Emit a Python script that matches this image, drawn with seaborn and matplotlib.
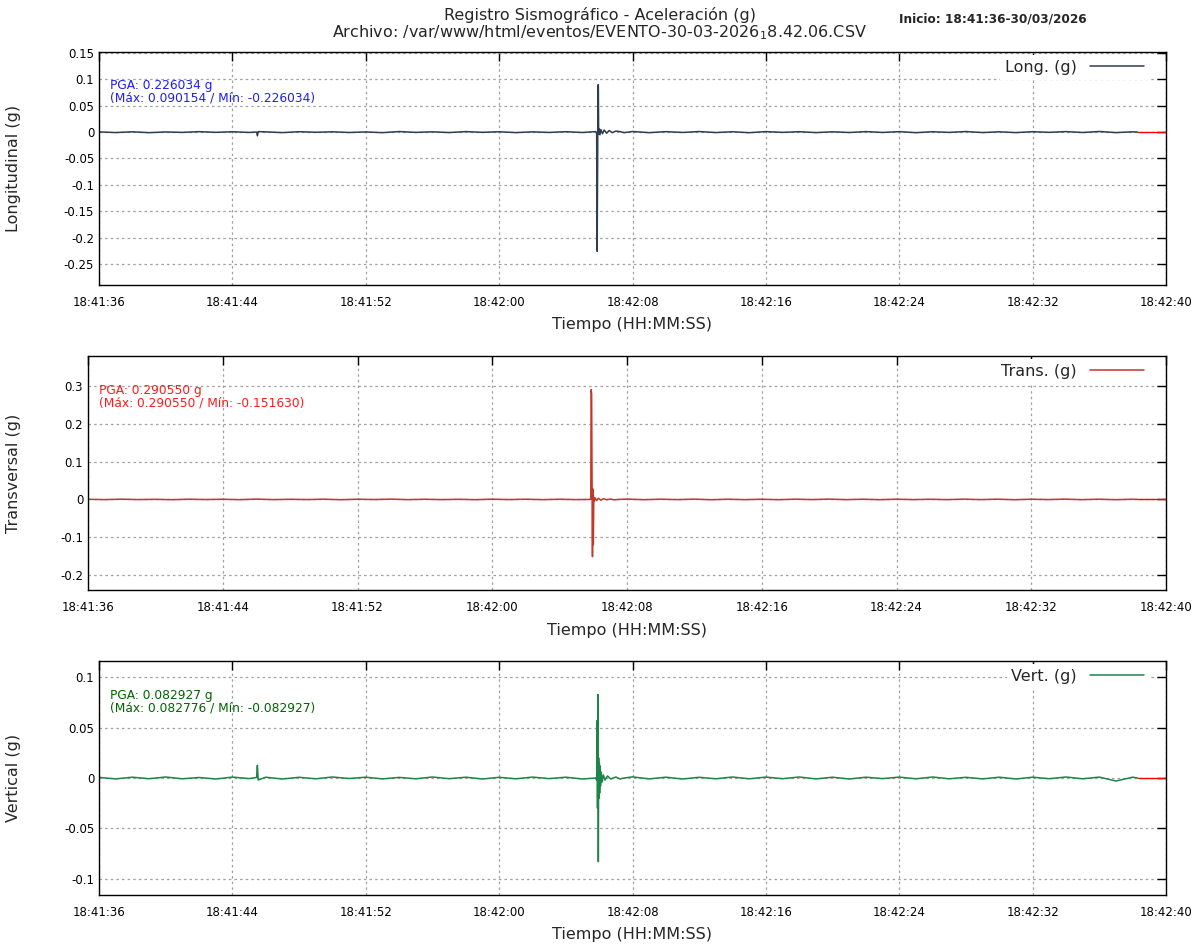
import numpy as np
import pandas as pd
import matplotlib
matplotlib.use("Agg")
import matplotlib.pyplot as plt
import seaborn as sns
from matplotlib.ticker import FuncFormatter

# eje de tiempo (segundos desde 18:41:36)
tick_secs = [0, 8, 16, 24, 32, 40, 48, 56, 64]
tick_labels = ["18:41:36", "18:41:44", "18:41:52", "18:42:00", "18:42:08",
               "18:42:16", "18:42:24", "18:42:32", "18:42:40"]

# ruido de fondo, una muestra por segundo
base_t = [0, 1, 2, 3, 4, 5, 6, 7, 8, 9, 10, 11, 12, 13, 14, 15, 16, 17, 18, 19,
          20, 21, 22, 23, 24, 25, 26, 27, 28, 29, 32, 33, 34, 35, 36, 37, 38, 39,
          40, 41, 42, 43, 44, 45, 46, 47, 48, 49, 50, 51, 52, 53, 54, 55, 56, 57,
          58, 59, 60, 61, 62, 62.3]
long_base = [0.0004, -0.0008, 0.0006, -0.0010, 0.0003, -0.0005, 0.0009, -0.0004,
             0.0007, -0.0006, 0.0005, -0.0009, 0.0008, -0.0003, 0.0006, -0.0007,
             0.0004, -0.0010, 0.0011, -0.0005, 0.0006, -0.0008, 0.0010, -0.0004,
             0.0007, -0.0009, 0.0005, -0.0006, 0.0008, -0.0007, 0.0012, -0.0010,
             0.0009, -0.0006, 0.0011, -0.0008, 0.0007, -0.0011, 0.0010, -0.0005,
             0.0008, -0.0009, 0.0006, -0.0007, 0.0010, -0.0006, 0.0009, -0.0010,
             0.0007, -0.0005, 0.0011, -0.0008, 0.0006, -0.0009, 0.0008, -0.0004,
             0.0010, -0.0007, 0.0012, -0.0009, 0.0006, 0.0000]
trans_base = [0.0003, -0.0005, 0.0006, -0.0004, 0.0002, -0.0007, 0.0005, -0.0003,
              0.0004, -0.0006, 0.0008, -0.0005, 0.0003, -0.0004, 0.0006, -0.0008,
              0.0005, -0.0003, 0.0007, -0.0006, 0.0004, -0.0005, 0.0003, -0.0007,
              0.0006, -0.0004, 0.0005, -0.0006, 0.0004, -0.0005, 0.0008, -0.0007,
              0.0006, -0.0005, 0.0007, -0.0008, 0.0005, -0.0006, 0.0004, -0.0007,
              0.0006, -0.0004, 0.0008, -0.0006, 0.0005, -0.0007, 0.0006, -0.0005,
              0.0004, -0.0006, 0.0007, -0.0005, 0.0006, -0.0008, 0.0005, -0.0004,
              0.0007, -0.0006, 0.0005, -0.0007, 0.0004, 0.0000]
vert_base = [0.0006, -0.0009, 0.0008, -0.0007, 0.0010, -0.0008, 0.0005, -0.0010,
             0.0009, -0.0006, 0.0008, -0.0010, 0.0007, -0.0008, 0.0010, -0.0005,
             0.0008, -0.0009, 0.0006, -0.0008, 0.0010, -0.0007, 0.0008, -0.0010,
             0.0007, -0.0008, 0.0009, -0.0006, 0.0008, -0.0010, 0.0011, -0.0009,
             0.0008, -0.0010, 0.0007, -0.0008, 0.0010, -0.0008, 0.0009, -0.0007,
             0.0010, -0.0009, 0.0008, -0.0010, 0.0008, -0.0006, 0.0009, -0.0008,
             0.0010, -0.0008, 0.0007, -0.0009, 0.0008, -0.0010, 0.0008, -0.0007,
             0.0010, -0.0008, 0.0009, -0.0030, 0.0008, 0.0000]

# pequeno pulso hacia los 9.5 s
blip_t = [9.45, 9.50, 9.55]
long_blip = [0.0002, -0.0070, 0.0010]
vert_blip = [0.0005, 0.0125, -0.0020]

# evento principal (~29.9 s)
long_ev_t = [29.80, 29.85, 29.88, 29.91, 29.93, 29.95, 29.97, 30.00, 30.05, 30.10,
             30.20, 30.30, 30.45, 30.60, 30.80, 31.00, 31.25, 31.50]
long_ev = [0.0010, -0.0020, -0.226034, -0.0500, 0.0880, 0.090154, -0.0040, 0.0060,
           -0.0050, 0.0050, -0.0030, 0.0040, -0.0020, 0.0030, -0.0010, 0.0020,
           0.0010, -0.0010]
trans_ev_t = [29.80, 29.85, 29.87, 29.90, 29.93, 29.95, 29.97, 30.00, 30.03, 30.06,
              30.10, 30.20, 30.30, 30.45, 30.60, 30.80, 31.00, 31.25, 31.50]
trans_ev = [0.0000, 0.0010, 0.290550, 0.2800, 0.0100, -0.151630, 0.0280, -0.1200,
            0.0060, -0.0050, 0.0040, -0.0030, 0.0030, -0.0020, 0.0020, -0.0010,
            0.0010, -0.0010, 0.0000]
vert_ev_t = [29.80, 29.85, 29.88, 29.90, 29.93, 29.95, 29.97, 29.99, 30.01, 30.03,
             30.05, 30.08, 30.12, 30.18, 30.25, 30.35, 30.50, 30.70, 31.00, 31.25,
             31.50]
vert_ev = [0.0000, -0.0020, 0.0570, -0.0300, 0.082776, -0.082927, 0.0200, -0.0200,
           0.0150, -0.0150, 0.0120, -0.0080, 0.0060, -0.0040, 0.0030, -0.0020,
           0.0020, -0.0010, 0.0010, -0.0010, 0.0000]

long_df = pd.DataFrame({"t": base_t + blip_t + long_ev_t,
                        "g": long_base + long_blip + long_ev})
trans_df = pd.DataFrame({"t": base_t + trans_ev_t, "g": trans_base + trans_ev})
vert_df = pd.DataFrame({"t": base_t + blip_t + vert_ev_t,
                        "g": vert_base + vert_blip + vert_ev})

panels = [
    dict(df=long_df, color="#2c3e50", label="Long. (g)", ylabel="Longitudinal (g)",
         ylim=(-0.29, 0.152), yticks=[-0.25, -0.2, -0.15, -0.1, -0.05, 0, 0.05, 0.1, 0.15],
         txt="PGA: 0.226034 g\n(Máx: 0.090154 / Mín: -0.226034)", tcolor="#1f1fee",
         rect=(99, 52, 1166, 285), txt_x=110),
    dict(df=trans_df, color="#c0392b", label="Trans. (g)", ylabel="Transversal (g)",
         ylim=(-0.24, 0.38), yticks=[-0.2, -0.1, 0, 0.1, 0.2, 0.3],
         txt="PGA: 0.290550 g\n(Máx: 0.290550 / Mín: -0.151630)", tcolor="#ff1a1a",
         rect=(88, 356, 1166, 590), txt_x=99),
    dict(df=vert_df, color="#1e8449", label="Vert. (g)", ylabel="Vertical (g)",
         ylim=(-0.116, 0.116), yticks=[-0.1, -0.05, 0, 0.05, 0.1],
         txt="PGA: 0.082927 g\n(Máx: 0.082776 / Mín: -0.082927)", tcolor="#006400",
         rect=(99, 661, 1166, 895), txt_x=110),
]

W, H = 1200, 950
fig = plt.figure(figsize=(12, 9.5), dpi=100)
sns.set_style("white")
plt.rcParams["font.family"] = ["DejaVu Sans"]

for p in panels:
    x0, y0, x1, y1 = p["rect"]
    ax = fig.add_axes([x0 / W, 1 - y1 / H, (x1 - x0) / W, (y1 - y0) / H])
    # linea de cero en rojo, visible donde termina el registro
    t_end = p["df"]["t"].max()
    ax.axhline(0, xmin=t_end / 64, xmax=1, color="red", lw=1.0, zorder=1.8)
    sns.lineplot(data=p["df"], x="t", y="g", estimator=None, sort=True,
                 color=p["color"], lw=1.1, ax=ax, label=p["label"], zorder=2)
    ax.set_xlim(0, 64)
    ax.set_ylim(*p["ylim"])
    ax.set_xticks(tick_secs)
    ax.set_xticklabels(tick_labels)
    ax.set_yticks(p["yticks"])
    ax.yaxis.set_major_formatter(FuncFormatter(lambda v, pos: "%g" % round(v, 3)))
    ax.tick_params(direction="in", length=6.5, width=1, top=True, right=True,
                   labelsize=8.5, colors="black")
    ax.tick_params(axis="x", pad=8)
    ax.grid(True, color="#a0a0a0", linestyle=(0, (2, 2.5)), lw=0.9)
    for s in ax.spines.values():
        s.set_color("black")
        s.set_linewidth(1)
        s.set_zorder(10)
    ax.set_xlabel("")
    ax.set_ylabel("")
    ax.legend(loc="upper right", bbox_to_anchor=(1 - 14 / (x1 - x0), 1.0),
              markerfirst=False, handlelength=3.4, fontsize=11.5, frameon=True,
              framealpha=1, edgecolor="none", fancybox=False,
              borderaxespad=0.2, borderpad=0.3)
    ax.text((p["txt_x"] - x0) / (x1 - x0), 0.882, p["txt"], transform=ax.transAxes,
            color=p["tcolor"], fontsize=8.8, va="top", ha="left", linespacing=0.95)
    fig.text(14 / W, 1 - (y0 + y1) / 2 / H, p["ylabel"], rotation=90,
             ha="center", va="center", fontsize=11.5)
    fig.text((x0 + x1) / 2 / W, 1 - (y1 + 40) / H, "Tiempo (HH:MM:SS)",
             ha="center", va="center", fontsize=11.5)

fig.text(0.5, 1 - 15 / H, "Registro Sismográfico - Aceleración (g)",
         ha="center", va="center", fontsize=11.5)
fig.text(0.5, 1 - 33 / H,
         r"Archivo: /var/www/html/eventos/EVENTO-30-03-2026$_{1}$8.42.06.CSV",
         ha="center", va="center", fontsize=11.5)
fig.text(899 / W, 1 - 19 / H, "Inicio: 18:41:36-30/03/2026", ha="left",
         va="center", fontsize=8.7, fontweight="bold")

fig.savefig("out.png", dpi=100, facecolor="white")
